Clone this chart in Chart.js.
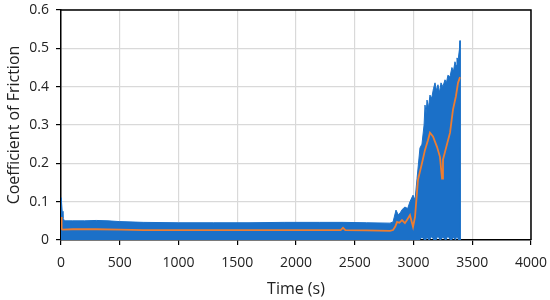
<!DOCTYPE html>
<html>
<head>
<meta charset="utf-8">
<script src="https://cdn.jsdelivr.net/npm/chart.js@4.4.1/dist/chart.umd.min.js"></script>
<style>
  html, body { margin: 0; padding: 0; background: #fff; }
  #wrap { width: 550px; height: 300px; }
</style>
</head>
<body>
<div id="wrap"><canvas id="cofChart" width="550" height="300"></canvas></div>
<script>
// --- data ---
// upper edge of the raw (blue) friction signal
const bandTime = [0, 4, 10, 17, 30, 100, 200, 300, 400, 500, 700, 1000, 1300, 1600, 1900, 2200, 2400, 2600, 2800, 2826,
  2851, 2870, 2885, 2905, 2927, 2950, 2970, 2996, 3013, 3030, 3055, 3072, 3090, 3098, 3108, 3115, 3128, 3140, 3155, 3170,
  3183, 3196, 3208, 3222, 3234, 3250, 3268, 3280, 3293, 3310, 3327, 3340, 3353, 3362, 3370, 3380, 3392, 3396, 3397];
const bandTop = [0.11, 0.1, 0.075, 0.057, 0.05, 0.05, 0.05, 0.051, 0.05, 0.048, 0.046, 0.045, 0.045, 0.045, 0.046, 0.046, 0.046, 0.045, 0.044, 0.047,
  0.078, 0.066, 0.07, 0.08, 0.086, 0.082, 0.1, 0.117, 0.104, 0.16, 0.24, 0.25, 0.3, 0.352, 0.33, 0.365, 0.345, 0.378, 0.37, 0.395,
  0.41, 0.39, 0.405, 0.385, 0.41, 0.4, 0.418, 0.41, 0.43, 0.425, 0.45, 0.44, 0.465, 0.455, 0.475, 0.47, 0.5, 0.52, 0];
const bandLow = [0, 0, 0, 0, 0, 0, 0, 0, 0, 0, 0, 0, 0, 0, 0, 0, 0, 0, 0, 0,
  0, 0, 0, 0, 0, 0, 0, 0, 0, 0, 0, 0.006, 0, 0, 0, 0.005, 0, 0, 0.007, 0,
  0, 0, 0.008, 0, 0, 0.006, 0, 0, 0.008, 0, 0, 0.005, 0, 0, 0.007, 0, 0, 0, 0];
// averaged coefficient (orange)
const meanTime = [0, 3, 8, 12, 100, 300, 500, 700, 1000, 1300, 1600, 1900, 2200, 2380, 2400, 2420, 2600, 2800, 2826, 2845,
  2860, 2880, 2902, 2927, 2950, 2970, 2996, 3013, 3038, 3072, 3098, 3123, 3140, 3166, 3200, 3225, 3243, 3251, 3285, 3311,
  3336, 3361, 3379, 3396];
const meanCof = [0.06, 0.045, 0.03, 0.027, 0.028, 0.028, 0.027, 0.026, 0.026, 0.026, 0.026, 0.026, 0.026, 0.026, 0.032, 0.026, 0.025, 0.024, 0.026, 0.035,
  0.047, 0.045, 0.052, 0.044, 0.055, 0.065, 0.034, 0.06, 0.157, 0.2, 0.235, 0.26, 0.28, 0.27, 0.243, 0.217, 0.16, 0.21, 0.25, 0.28,
  0.34, 0.375, 0.41, 0.425];
const xTicks = [0, 500, 1000, 1500, 2000, 2500, 3000, 3500, 4000];
const yTicks = [0, 0.1, 0.2, 0.3, 0.4, 0.5, 0.6];

const blue = '#1b70c8';
const orange = '#ed7d31';
const font = "'Open Sans', 'DejaVu Sans', sans-serif";

function pts(xs, ys) { return xs.map((x, i) => ({ x: x, y: ys[i] })); }

// black frame on top and right of the plot
const framePlugin = {
    id: 'frame',
    afterDraw(chart) {
        const a = chart.chartArea, c = chart.ctx;
        c.save();
        c.strokeStyle = '#000';
        c.lineWidth = 1.5;
        c.beginPath();
        c.moveTo(a.left, a.top);
        c.lineTo(a.right, a.top);
        c.lineTo(a.right, a.bottom);
        c.stroke();
        c.restore();
    }
};

new Chart(document.getElementById('cofChart').getContext('2d'), {
    type: 'line',
    data: {
        datasets: [
            { label: 'Average', data: pts(meanTime, meanCof), borderColor: orange, borderWidth: 1.8,
              pointRadius: 0, tension: 0, fill: false, order: 0 },
            { label: 'Top', data: pts(bandTime, bandTop), borderColor: blue, backgroundColor: blue, borderWidth: 1,
              pointRadius: 0, tension: 0, fill: '+1', order: 1 },
            { label: 'Low', data: pts(bandTime, bandLow), borderColor: blue, borderWidth: 0,
              pointRadius: 0, tension: 0, fill: false, order: 2 }
        ]
    },
    options: {
        responsive: false,
        animation: false,
        layout: { autoPadding: false, padding: { top: 10, right: 19, left: 0, bottom: 0 } },
        plugins: { legend: { display: false }, tooltip: { enabled: false } },
        scales: {
            x: {
                type: 'linear', min: 0, max: 4000,
                afterBuildTicks: ax => { ax.ticks = xTicks.map(v => ({ value: v })); },
                afterFit: ax => { ax.height = 60; ax.paddingLeft = 0; ax.paddingRight = 0; },
                grid: { color: '#d9d9d9', lineWidth: 1.2, tickColor: '#000', tickLength: 5 },
                border: { color: '#000', width: 1.5 },
                ticks: { color: '#222', font: { family: font, size: 14 }, padding: 10, maxRotation: 0, callback: v => String(v) },
                title: { display: true, text: 'Time (s)', color: '#222', font: { family: font, size: 16 }, padding: { top: 1, bottom: 1 } }
            },
            y: {
                min: 0, max: 0.6,
                afterBuildTicks: ax => { ax.ticks = yTicks.map(v => ({ value: v })); },
                afterFit: ax => { ax.width = 61; ax.paddingTop = 0; ax.paddingBottom = 0; },
                grid: { color: '#d9d9d9', lineWidth: 1.2, tickColor: '#000', tickLength: 5 },
                border: { color: '#000', width: 1.5 },
                ticks: { color: '#222', font: { family: font, size: 14 }, padding: 7, callback: v => String(+v.toFixed(1)) },
                title: { display: true, text: 'Coefficient of Friction', color: '#222', font: { family: font, size: 16 }, padding: { top: 5, bottom: 2 } }
            }
        }
    },
    plugins: [framePlugin]
});
</script>
</body>
</html>
